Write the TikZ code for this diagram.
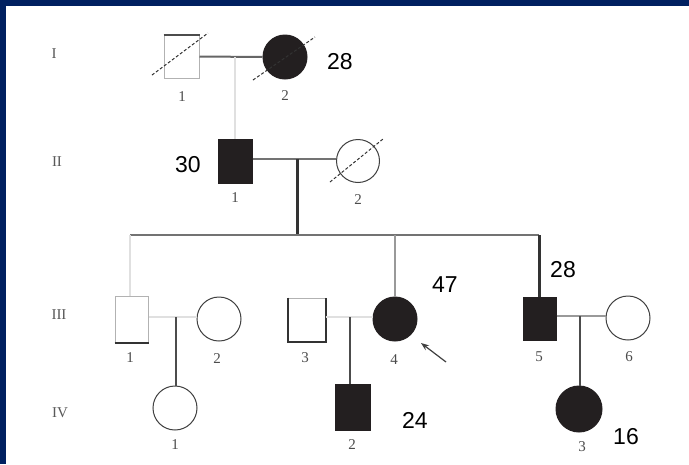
\documentclass[tikz,border=0pt]{standalone}
\usepackage{fontspec}
\newfontfamily\arialf{Liberation Sans}
\newfontfamily\serf{Liberation Serif}
\usetikzlibrary{arrows.meta}
\definecolor{navy}{RGB}{0,32,96}
\definecolor{ink}{RGB}{35,31,32}
\tikzset{
  sqnode/.style={draw=black!30, line width=1pt, rectangle, inner sep=0pt},
  cinode/.style={draw=black!75, line width=1pt, circle, inner sep=0pt},
  aff/.style={fill=ink, draw=ink},
  lbl/.style={font=\serf\fontsize{15}{15}\selectfont, text=black!70, inner sep=0pt},
  num/.style={font=\arialf\fontsize{23}{23}\selectfont, text=black, inner sep=0pt},
  gen/.style={font=\serf\fontsize{15}{15}\selectfont, text=black!65, inner sep=0pt},
  dead/.style={draw=black!80, line width=1pt, densely dashed},
  lightln/.style={draw=black!12, line width=2pt},
  midln/.style={draw=black!55, line width=1.5pt},
  darkln/.style={draw=black!80, line width=3pt},
  kidln/.style={draw=black!70, line width=1.3pt}
}
\begin{document}
\begin{tikzpicture}[x=1pt,y=-1pt]
\useasboundingbox (0,0) rectangle (689,464);
\fill[white] (0,0) rectangle (689,464);
\fill[navy] (0,0) rectangle (689,6);
\fill[navy] (0,0) rectangle (6,464);

% generation labels
\node[gen] (gI) at (54,54) {I};
\node[gen] (gII) at (57,162) {II};
\node[gen] (gIII) at (59,315) {III};
\node[gen] (gIV) at (60,413) {IV};

% Generation I
\node[sqnode, minimum width=35pt, minimum height=43pt] (I1) at (181.5,56.5) {};
\draw[draw=black!70, line width=2pt] (I1.north west) -- (I1.north east);
\node[cinode, aff, minimum size=44pt] (I2) at (285,57) {};
\draw[dead] (152,75) -- (208,33);
\draw[dead] (253,80) -- (315,37);
\node[lbl] (lI1) at (182,97) {1};
\node[lbl] (lI2) at (285,96) {2};
\node[num] (nI2) at (340,62) {28};

% Generation II
\node[sqnode, aff, minimum width=34pt, minimum height=44pt] (II1) at (235,161) {};
\node[cinode, minimum size=43pt] (II2) at (358,161) {};
\draw[dead] (330,182) -- (383,139);
\node[lbl] (lII1) at (235,198) {1};
\node[lbl] (lII2) at (358,200) {2};
\node[num] (nII1) at (188,165) {30};

\coordinate (mI) at (235,57);
\draw[draw=black!60, line width=2pt] (I1.east) -- (I2.west);
\draw[lightln] (mI) -- (II1.north);

\coordinate (mII) at (297,159);
\coordinate (sib) at (297,235);
\draw[midln] (II1.east |- mII) -- (II2.west |- mII);
\draw[darkln] (mII) -- (sib);

% Generation III
\node[sqnode, minimum width=33pt, minimum height=46pt] (III1) at (131.5,319) {};
\draw[draw=black!80, line width=2pt] (III1.south west) -- (III1.south east);
\node[cinode, minimum size=44pt] (III2) at (219,319) {};
\node[sqnode, minimum width=37pt, minimum height=43pt] (III3) at (306.5,319.5) {};
\draw[draw=black!80, line width=2pt] (III3.north west) -- (III3.south west) -- (III3.south east) -- (III3.north east);
\node[cinode, aff, minimum size=44pt] (III4) at (395,319) {};
\node[sqnode, aff, minimum width=33pt, minimum height=43pt] (III5) at (539.5,318.5) {};
\node[cinode, minimum size=44pt] (III6) at (628,318) {};

\node[lbl] (lIII1) at (130,358) {1};
\node[lbl] (lIII2) at (217,359) {2};
\node[lbl] (lIII3) at (305,358) {3};
\node[lbl] (lIII4) at (394,360) {4};
\node[lbl] (lIII5) at (539,357) {5};
\node[lbl] (lIII6) at (629,357) {6};
\node[num] (nIII4) at (445,285) {47};
\node[num] (nIII5) at (563,270) {28};

\coordinate (s1) at (130,235);
\coordinate (s4) at (395,235);
\coordinate (s5) at (539,235);
\draw[draw=black!55, line width=1.8pt] (s1) -- (s5);
\draw[lightln] (s1) -- (III1.north -| s1);
\draw[draw=black!40, line width=1.3pt] (s4) -- (III4.north);
\draw[darkln] (s5) -- (III5.north -| s5);

\coordinate (m31) at (176,317);
\coordinate (m34) at (350,317);
\coordinate (m56) at (580,316);
\draw[lightln] (III1.east |- m31) -- (III2.west |- m31);
\draw[lightln] (III3.east |- m34) -- (III4.west |- m34);
\draw[draw=black!40, line width=1.3pt] (III5.east |- m56) -- (III6.west |- m56);

% arrow
\coordinate (arT) at (446,362);
\coordinate (arH) at (421,343);
\draw[draw=black!75, line width=1.2pt, -{Stealth[length=8pt,width=6pt]}] (arT) -- (arH);

% Generation IV
\node[cinode, minimum size=44pt] (IV1) at (175,408) {};
\node[sqnode, aff, minimum width=35pt, minimum height=46pt] (IV2) at (352.5,407) {};
\node[cinode, aff, minimum size=46pt] (IV3) at (579,409) {};
\node[lbl] (lIV1) at (175,445) {1};
\node[lbl] (lIV2) at (352,445) {2};
\node[lbl] (lIV3) at (582,447) {3};
\node[num] (nIV2) at (415,420) {24};
\node[num] (nIV3) at (626,437) {16};

\draw[kidln] (m31) -- (IV1.north -| m31);
\draw[kidln] (m34) -- (IV2.north -| m34);
\draw[kidln] (m56) -- (IV3.north -| m56);
\end{tikzpicture}
\end{document}
